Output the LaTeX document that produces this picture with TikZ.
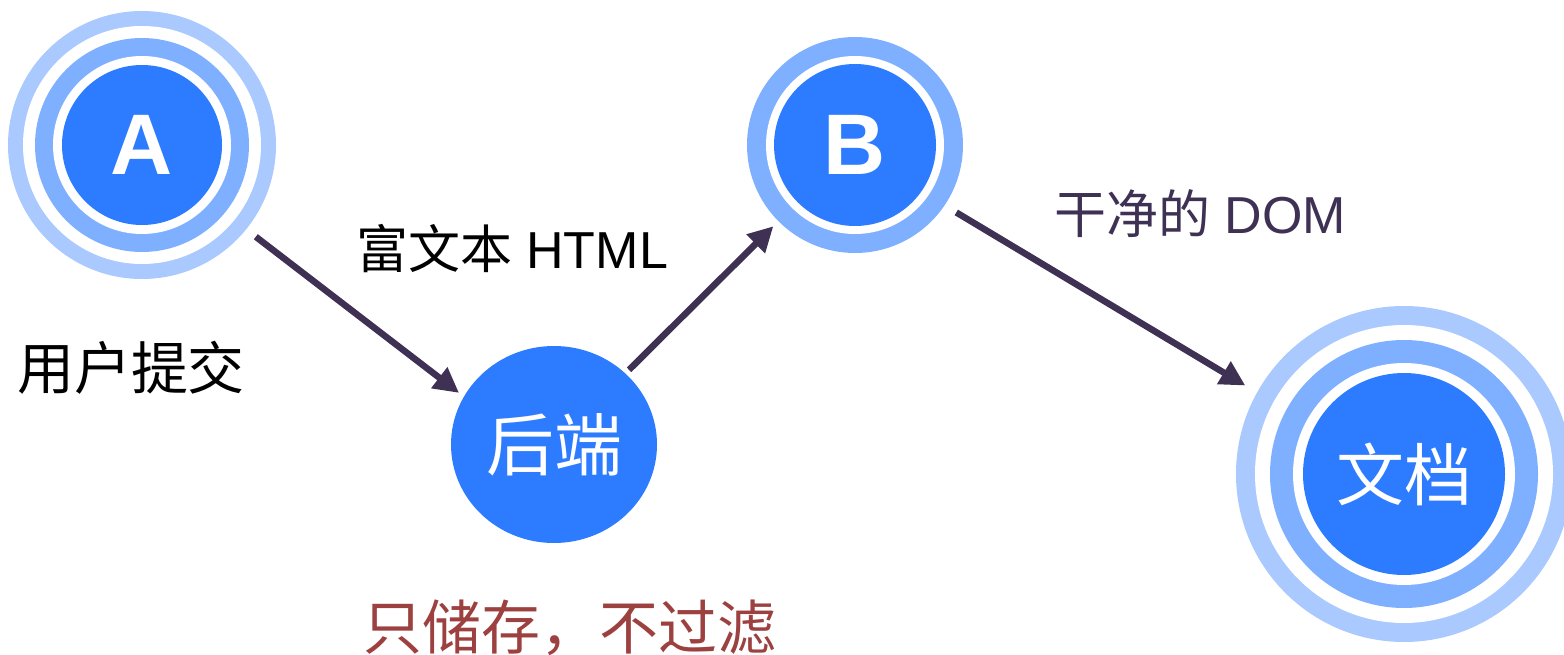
\documentclass[tikz,border=0pt]{standalone}
\usepackage{fontspec}
\setmainfont{Liberation Sans}
\newfontfamily\cjk{Noto Sans CJK SC}
\usetikzlibrary{shapes.geometric,arrows.meta}
\definecolor{corebl}{RGB}{45,123,255}
\definecolor{midbl}{RGB}{127,176,255}
\definecolor{lightbl}{RGB}{169,201,255}
\definecolor{arrowc}{RGB}{63,49,83}
\definecolor{redtxt}{RGB}{156,64,64}
\tikzset{
  ringnode/.style={circle, inner sep=0pt, draw=none},
  corenode/.style={circle, inner sep=0pt, fill=corebl, text=white},
  conn/.style={draw=arrowc, line width=6.5pt, -{Triangle[length=25pt,width=25pt]}},
  lbl/.style={inner sep=0pt, anchor=center}
}
\begin{document}
\begin{tikzpicture}[x=1pt,y=-1pt]
\useasboundingbox (0,0) rectangle (1564,655);
% Node A
\node[ringnode, fill=lightbl, minimum size=268pt] (Aouter) at (142,145) {};
\node[ringnode, fill=white, minimum size=238pt] at (142,145) {};
\node[ringnode, fill=midbl, minimum size=214pt] at (142,145) {};
\node[ringnode, fill=white, minimum size=178pt] at (142,145) {};
\node[corenode, minimum size=160pt, font=\fontsize{86}{90}\selectfont\bfseries] (A) at (142,145) {A};
% Node B
\node[ringnode, fill=midbl, minimum size=216pt] (Bouter) at (855,145) {};
\node[ringnode, fill=white, minimum size=178pt] at (855,145) {};
\node[corenode, minimum size=162pt, font=\fontsize{86}{90}\selectfont\bfseries] (B) at (855,145) {B};
% Backend
\node[ellipse, inner sep=0pt, fill=corebl, text=white, minimum width=206pt, minimum height=197pt, font=\fontsize{68}{72}\selectfont\cjk] (backend) at (554,444.5) {后端};
% Document
\node[ringnode, fill=lightbl, minimum size=336pt] (docouter) at (1404,474) {};
\node[ringnode, fill=white, minimum size=298pt] at (1404,474) {};
\node[ringnode, fill=midbl, minimum size=268pt] at (1404,474) {};
\node[ringnode, fill=white, minimum size=222pt] at (1404,474) {};
\node[corenode, minimum size=202pt, font=\fontsize{68}{72}\selectfont\cjk] (doc) at (1404,474) {文档};
% Connectors
\draw[conn, shorten <=12pt, shorten >=6pt] (Aouter.-39.5) -- (backend.152.5);
\draw[conn, shorten <=5pt, shorten >=7pt] (backend) -- (Bouter);
\draw[conn, shorten <=13.5pt, shorten >=13.5pt] (Bouter.-34.6) -- (docouter.151.7);
% Labels
\node[lbl, font=\fontsize{52}{56}\selectfont] (lhtml) at (512,249) {{\cjk 富文本} HTML};
\node[lbl, font=\fontsize{57}{60}\selectfont\cjk] (lsubmit) at (131,368) {用户提交};
\node[lbl, text=arrowc, font=\fontsize{52}{56}\selectfont] (ldom) at (1200,214) {{\cjk 干净的} DOM};
\node[lbl, text=redtxt, font=\fontsize{59}{62}\selectfont\cjk] (lstore) at (570,628) {只储存，不过滤};
\end{tikzpicture}
\end{document}
